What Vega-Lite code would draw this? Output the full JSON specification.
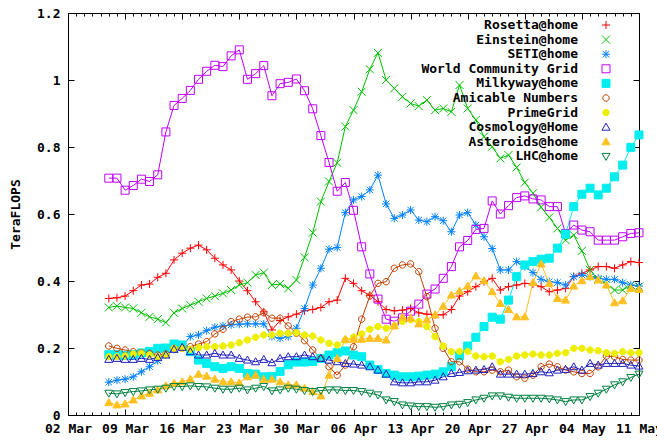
{
"$schema":"https://vega.github.io/schema/vega-lite/v6.json",
"width":571,"height":402,
"autosize":{"type":"none"},
"padding":{"left":68,"top":13,"right":18,"bottom":26},
"background":"white",
"config":{
 "view":{"stroke":"black","strokeWidth":1},
 "font":"DejaVu Sans Mono",
 "axis":{"labelFont":"DejaVu Sans Mono","labelFontSize":13,"labelFontWeight":"bold","labelColor":"black","titleFont":"DejaVu Sans Mono","titleFontSize":13,"titleFontWeight":"bold","titleColor":"black","grid":false,"domain":false,"tickColor":"black","tickWidth":1,"labelFlush":false,"labelOverlap":false,"labelBound":false}
},
"datasets":{"pts":[
{"s":"Rosetta@home","d":"2008/03/07","v":0.348},{"s":"Rosetta@home","d":"2008/03/08","v":0.350},{"s":"Rosetta@home","d":"2008/03/09","v":0.355},{"s":"Rosetta@home","d":"2008/03/10","v":0.371},{"s":"Rosetta@home","d":"2008/03/11","v":0.388},{"s":"Rosetta@home","d":"2008/03/12","v":0.391},{"s":"Rosetta@home","d":"2008/03/13","v":0.411},{"s":"Rosetta@home","d":"2008/03/14","v":0.423},{"s":"Rosetta@home","d":"2008/03/15","v":0.463},{"s":"Rosetta@home","d":"2008/03/16","v":0.483},{"s":"Rosetta@home","d":"2008/03/17","v":0.498},{"s":"Rosetta@home","d":"2008/03/18","v":0.507},{"s":"Rosetta@home","d":"2008/03/19","v":0.493},{"s":"Rosetta@home","d":"2008/03/20","v":0.468},{"s":"Rosetta@home","d":"2008/03/21","v":0.448},{"s":"Rosetta@home","d":"2008/03/22","v":0.433},{"s":"Rosetta@home","d":"2008/03/23","v":0.400},{"s":"Rosetta@home","d":"2008/03/24","v":0.371},{"s":"Rosetta@home","d":"2008/03/25","v":0.338},{"s":"Rosetta@home","d":"2008/03/26","v":0.308},{"s":"Rosetta@home","d":"2008/03/27","v":0.254},{"s":"Rosetta@home","d":"2008/03/28","v":0.282},{"s":"Rosetta@home","d":"2008/03/29","v":0.293},{"s":"Rosetta@home","d":"2008/03/30","v":0.301},{"s":"Rosetta@home","d":"2008/03/31","v":0.311},{"s":"Rosetta@home","d":"2008/04/01","v":0.315},{"s":"Rosetta@home","d":"2008/04/02","v":0.321},{"s":"Rosetta@home","d":"2008/04/03","v":0.338},{"s":"Rosetta@home","d":"2008/04/04","v":0.343},{"s":"Rosetta@home","d":"2008/04/05","v":0.408},{"s":"Rosetta@home","d":"2008/04/06","v":0.393},{"s":"Rosetta@home","d":"2008/04/07","v":0.371},{"s":"Rosetta@home","d":"2008/04/08","v":0.357},{"s":"Rosetta@home","d":"2008/04/09","v":0.338},{"s":"Rosetta@home","d":"2008/04/10","v":0.315},{"s":"Rosetta@home","d":"2008/04/11","v":0.311},{"s":"Rosetta@home","d":"2008/04/12","v":0.313},{"s":"Rosetta@home","d":"2008/04/13","v":0.318},{"s":"Rosetta@home","d":"2008/04/14","v":0.305},{"s":"Rosetta@home","d":"2008/04/15","v":0.301},{"s":"Rosetta@home","d":"2008/04/16","v":0.299},{"s":"Rosetta@home","d":"2008/04/17","v":0.299},{"s":"Rosetta@home","d":"2008/04/18","v":0.315},{"s":"Rosetta@home","d":"2008/04/19","v":0.355},{"s":"Rosetta@home","d":"2008/04/20","v":0.368},{"s":"Rosetta@home","d":"2008/04/21","v":0.383},{"s":"Rosetta@home","d":"2008/04/22","v":0.398},{"s":"Rosetta@home","d":"2008/04/23","v":0.408},{"s":"Rosetta@home","d":"2008/04/24","v":0.373},{"s":"Rosetta@home","d":"2008/04/25","v":0.383},{"s":"Rosetta@home","d":"2008/04/26","v":0.388},{"s":"Rosetta@home","d":"2008/04/27","v":0.393},{"s":"Rosetta@home","d":"2008/04/28","v":0.391},{"s":"Rosetta@home","d":"2008/04/29","v":0.383},{"s":"Rosetta@home","d":"2008/04/30","v":0.368},{"s":"Rosetta@home","d":"2008/05/01","v":0.373},{"s":"Rosetta@home","d":"2008/05/02","v":0.378},{"s":"Rosetta@home","d":"2008/05/03","v":0.413},{"s":"Rosetta@home","d":"2008/05/04","v":0.423},{"s":"Rosetta@home","d":"2008/05/05","v":0.433},{"s":"Rosetta@home","d":"2008/05/06","v":0.443},{"s":"Rosetta@home","d":"2008/05/07","v":0.443},{"s":"Rosetta@home","d":"2008/05/08","v":0.438},{"s":"Rosetta@home","d":"2008/05/09","v":0.448},{"s":"Rosetta@home","d":"2008/05/10","v":0.458},{"s":"Rosetta@home","d":"2008/05/11","v":0.455},
{"s":"Einstein@home","d":"2008/03/07","v":0.321},{"s":"Einstein@home","d":"2008/03/08","v":0.325},{"s":"Einstein@home","d":"2008/03/09","v":0.321},{"s":"Einstein@home","d":"2008/03/10","v":0.318},{"s":"Einstein@home","d":"2008/03/11","v":0.305},{"s":"Einstein@home","d":"2008/03/12","v":0.293},{"s":"Einstein@home","d":"2008/03/13","v":0.286},{"s":"Einstein@home","d":"2008/03/14","v":0.276},{"s":"Einstein@home","d":"2008/03/15","v":0.305},{"s":"Einstein@home","d":"2008/03/16","v":0.318},{"s":"Einstein@home","d":"2008/03/17","v":0.328},{"s":"Einstein@home","d":"2008/03/18","v":0.338},{"s":"Einstein@home","d":"2008/03/19","v":0.348},{"s":"Einstein@home","d":"2008/03/20","v":0.355},{"s":"Einstein@home","d":"2008/03/21","v":0.363},{"s":"Einstein@home","d":"2008/03/22","v":0.373},{"s":"Einstein@home","d":"2008/03/23","v":0.388},{"s":"Einstein@home","d":"2008/03/24","v":0.395},{"s":"Einstein@home","d":"2008/03/25","v":0.418},{"s":"Einstein@home","d":"2008/03/26","v":0.425},{"s":"Einstein@home","d":"2008/03/27","v":0.388},{"s":"Einstein@home","d":"2008/03/28","v":0.391},{"s":"Einstein@home","d":"2008/03/29","v":0.378},{"s":"Einstein@home","d":"2008/03/30","v":0.403},{"s":"Einstein@home","d":"2008/03/31","v":0.471},{"s":"Einstein@home","d":"2008/04/01","v":0.544},{"s":"Einstein@home","d":"2008/04/02","v":0.637},{"s":"Einstein@home","d":"2008/04/03","v":0.697},{"s":"Einstein@home","d":"2008/04/04","v":0.753},{"s":"Einstein@home","d":"2008/04/05","v":0.861},{"s":"Einstein@home","d":"2008/04/06","v":0.910},{"s":"Einstein@home","d":"2008/04/07","v":0.965},{"s":"Einstein@home","d":"2008/04/08","v":1.032},{"s":"Einstein@home","d":"2008/04/09","v":1.081},{"s":"Einstein@home","d":"2008/04/10","v":1.000},{"s":"Einstein@home","d":"2008/04/11","v":0.975},{"s":"Einstein@home","d":"2008/04/12","v":0.950},{"s":"Einstein@home","d":"2008/04/13","v":0.930},{"s":"Einstein@home","d":"2008/04/14","v":0.922},{"s":"Einstein@home","d":"2008/04/15","v":0.940},{"s":"Einstein@home","d":"2008/04/16","v":0.910},{"s":"Einstein@home","d":"2008/04/17","v":0.915},{"s":"Einstein@home","d":"2008/04/18","v":0.905},{"s":"Einstein@home","d":"2008/04/19","v":0.985},{"s":"Einstein@home","d":"2008/04/20","v":0.915},{"s":"Einstein@home","d":"2008/04/21","v":0.881},{"s":"Einstein@home","d":"2008/04/22","v":0.831},{"s":"Einstein@home","d":"2008/04/23","v":0.801},{"s":"Einstein@home","d":"2008/04/24","v":0.766},{"s":"Einstein@home","d":"2008/04/25","v":0.776},{"s":"Einstein@home","d":"2008/04/26","v":0.739},{"s":"Einstein@home","d":"2008/04/27","v":0.694},{"s":"Einstein@home","d":"2008/04/28","v":0.662},{"s":"Einstein@home","d":"2008/04/29","v":0.620},{"s":"Einstein@home","d":"2008/04/30","v":0.590},{"s":"Einstein@home","d":"2008/05/01","v":0.557},{"s":"Einstein@home","d":"2008/05/02","v":0.522},{"s":"Einstein@home","d":"2008/05/03","v":0.537},{"s":"Einstein@home","d":"2008/05/04","v":0.490},{"s":"Einstein@home","d":"2008/05/05","v":0.433},{"s":"Einstein@home","d":"2008/05/06","v":0.403},{"s":"Einstein@home","d":"2008/05/07","v":0.391},{"s":"Einstein@home","d":"2008/05/08","v":0.373},{"s":"Einstein@home","d":"2008/05/09","v":0.373},{"s":"Einstein@home","d":"2008/05/10","v":0.388},{"s":"Einstein@home","d":"2008/05/11","v":0.383},
{"s":"SETI@home","d":"2008/03/07","v":0.098},{"s":"SETI@home","d":"2008/03/08","v":0.104},{"s":"SETI@home","d":"2008/03/09","v":0.107},{"s":"SETI@home","d":"2008/03/10","v":0.114},{"s":"SETI@home","d":"2008/03/11","v":0.129},{"s":"SETI@home","d":"2008/03/12","v":0.144},{"s":"SETI@home","d":"2008/03/13","v":0.162},{"s":"SETI@home","d":"2008/03/14","v":0.179},{"s":"SETI@home","d":"2008/03/15","v":0.196},{"s":"SETI@home","d":"2008/03/16","v":0.206},{"s":"SETI@home","d":"2008/03/17","v":0.234},{"s":"SETI@home","d":"2008/03/18","v":0.239},{"s":"SETI@home","d":"2008/03/19","v":0.252},{"s":"SETI@home","d":"2008/03/20","v":0.262},{"s":"SETI@home","d":"2008/03/21","v":0.266},{"s":"SETI@home","d":"2008/03/22","v":0.269},{"s":"SETI@home","d":"2008/03/23","v":0.271},{"s":"SETI@home","d":"2008/03/24","v":0.272},{"s":"SETI@home","d":"2008/03/25","v":0.272},{"s":"SETI@home","d":"2008/03/26","v":0.272},{"s":"SETI@home","d":"2008/03/27","v":0.234},{"s":"SETI@home","d":"2008/03/28","v":0.229},{"s":"SETI@home","d":"2008/03/29","v":0.234},{"s":"SETI@home","d":"2008/03/30","v":0.259},{"s":"SETI@home","d":"2008/03/31","v":0.318},{"s":"SETI@home","d":"2008/04/01","v":0.388},{"s":"SETI@home","d":"2008/04/02","v":0.438},{"s":"SETI@home","d":"2008/04/03","v":0.495},{"s":"SETI@home","d":"2008/04/04","v":0.500},{"s":"SETI@home","d":"2008/04/05","v":0.604},{"s":"SETI@home","d":"2008/04/06","v":0.642},{"s":"SETI@home","d":"2008/04/07","v":0.652},{"s":"SETI@home","d":"2008/04/08","v":0.672},{"s":"SETI@home","d":"2008/04/09","v":0.716},{"s":"SETI@home","d":"2008/04/10","v":0.630},{"s":"SETI@home","d":"2008/04/11","v":0.587},{"s":"SETI@home","d":"2008/04/12","v":0.597},{"s":"SETI@home","d":"2008/04/13","v":0.612},{"s":"SETI@home","d":"2008/04/14","v":0.582},{"s":"SETI@home","d":"2008/04/15","v":0.577},{"s":"SETI@home","d":"2008/04/16","v":0.592},{"s":"SETI@home","d":"2008/04/17","v":0.580},{"s":"SETI@home","d":"2008/04/18","v":0.547},{"s":"SETI@home","d":"2008/04/19","v":0.597},{"s":"SETI@home","d":"2008/04/20","v":0.604},{"s":"SETI@home","d":"2008/04/21","v":0.567},{"s":"SETI@home","d":"2008/04/22","v":0.532},{"s":"SETI@home","d":"2008/04/23","v":0.497},{"s":"SETI@home","d":"2008/04/24","v":0.433},{"s":"SETI@home","d":"2008/04/25","v":0.433},{"s":"SETI@home","d":"2008/04/26","v":0.458},{"s":"SETI@home","d":"2008/04/27","v":0.443},{"s":"SETI@home","d":"2008/04/28","v":0.425},{"s":"SETI@home","d":"2008/04/29","v":0.405},{"s":"SETI@home","d":"2008/04/30","v":0.398},{"s":"SETI@home","d":"2008/05/01","v":0.395},{"s":"SETI@home","d":"2008/05/02","v":0.388},{"s":"SETI@home","d":"2008/05/03","v":0.413},{"s":"SETI@home","d":"2008/05/04","v":0.418},{"s":"SETI@home","d":"2008/05/05","v":0.413},{"s":"SETI@home","d":"2008/05/06","v":0.408},{"s":"SETI@home","d":"2008/05/07","v":0.405},{"s":"SETI@home","d":"2008/05/08","v":0.405},{"s":"SETI@home","d":"2008/05/09","v":0.395},{"s":"SETI@home","d":"2008/05/10","v":0.388},{"s":"SETI@home","d":"2008/05/11","v":0.385},
{"s":"World Community Grid","d":"2008/03/07","v":0.707},{"s":"World Community Grid","d":"2008/03/08","v":0.707},{"s":"World Community Grid","d":"2008/03/09","v":0.671},{"s":"World Community Grid","d":"2008/03/10","v":0.685},{"s":"World Community Grid","d":"2008/03/11","v":0.704},{"s":"World Community Grid","d":"2008/03/12","v":0.697},{"s":"World Community Grid","d":"2008/03/13","v":0.717},{"s":"World Community Grid","d":"2008/03/14","v":0.845},{"s":"World Community Grid","d":"2008/03/15","v":0.924},{"s":"World Community Grid","d":"2008/03/16","v":0.945},{"s":"World Community Grid","d":"2008/03/17","v":0.969},{"s":"World Community Grid","d":"2008/03/18","v":1.002},{"s":"World Community Grid","d":"2008/03/19","v":1.026},{"s":"World Community Grid","d":"2008/03/20","v":1.044},{"s":"World Community Grid","d":"2008/03/21","v":1.040},{"s":"World Community Grid","d":"2008/03/22","v":1.072},{"s":"World Community Grid","d":"2008/03/23","v":1.090},{"s":"World Community Grid","d":"2008/03/24","v":1.002},{"s":"World Community Grid","d":"2008/03/25","v":1.019},{"s":"World Community Grid","d":"2008/03/26","v":1.043},{"s":"World Community Grid","d":"2008/03/27","v":0.953},{"s":"World Community Grid","d":"2008/03/28","v":0.989},{"s":"World Community Grid","d":"2008/03/29","v":0.993},{"s":"World Community Grid","d":"2008/03/30","v":1.003},{"s":"World Community Grid","d":"2008/03/31","v":0.968},{"s":"World Community Grid","d":"2008/04/01","v":0.914},{"s":"World Community Grid","d":"2008/04/02","v":0.834},{"s":"World Community Grid","d":"2008/04/03","v":0.754},{"s":"World Community Grid","d":"2008/04/04","v":0.668},{"s":"World Community Grid","d":"2008/04/05","v":0.694},{"s":"World Community Grid","d":"2008/04/06","v":0.611},{"s":"World Community Grid","d":"2008/04/07","v":0.502},{"s":"World Community Grid","d":"2008/04/08","v":0.421},{"s":"World Community Grid","d":"2008/04/09","v":0.346},{"s":"World Community Grid","d":"2008/04/10","v":0.286},{"s":"World Community Grid","d":"2008/04/11","v":0.280},{"s":"World Community Grid","d":"2008/04/12","v":0.290},{"s":"World Community Grid","d":"2008/04/13","v":0.310},{"s":"World Community Grid","d":"2008/04/14","v":0.331},{"s":"World Community Grid","d":"2008/04/15","v":0.361},{"s":"World Community Grid","d":"2008/04/16","v":0.376},{"s":"World Community Grid","d":"2008/04/17","v":0.408},{"s":"World Community Grid","d":"2008/04/18","v":0.443},{"s":"World Community Grid","d":"2008/04/19","v":0.502},{"s":"World Community Grid","d":"2008/04/20","v":0.521},{"s":"World Community Grid","d":"2008/04/21","v":0.554},{"s":"World Community Grid","d":"2008/04/22","v":0.557},{"s":"World Community Grid","d":"2008/04/23","v":0.639},{"s":"World Community Grid","d":"2008/04/24","v":0.600},{"s":"World Community Grid","d":"2008/04/25","v":0.625},{"s":"World Community Grid","d":"2008/04/26","v":0.649},{"s":"World Community Grid","d":"2008/04/27","v":0.654},{"s":"World Community Grid","d":"2008/04/28","v":0.645},{"s":"World Community Grid","d":"2008/04/29","v":0.642},{"s":"World Community Grid","d":"2008/04/30","v":0.622},{"s":"World Community Grid","d":"2008/05/01","v":0.622},{"s":"World Community Grid","d":"2008/05/02","v":0.542},{"s":"World Community Grid","d":"2008/05/03","v":0.567},{"s":"World Community Grid","d":"2008/05/04","v":0.552},{"s":"World Community Grid","d":"2008/05/05","v":0.547},{"s":"World Community Grid","d":"2008/05/06","v":0.522},{"s":"World Community Grid","d":"2008/05/07","v":0.522},{"s":"World Community Grid","d":"2008/05/08","v":0.522},{"s":"World Community Grid","d":"2008/05/09","v":0.532},{"s":"World Community Grid","d":"2008/05/10","v":0.542},{"s":"World Community Grid","d":"2008/05/11","v":0.544},
{"s":"Milkyway@home","d":"2008/03/07","v":0.180},{"s":"Milkyway@home","d":"2008/03/08","v":0.180},{"s":"Milkyway@home","d":"2008/03/09","v":0.178},{"s":"Milkyway@home","d":"2008/03/10","v":0.180},{"s":"Milkyway@home","d":"2008/03/11","v":0.185},{"s":"Milkyway@home","d":"2008/03/12","v":0.190},{"s":"Milkyway@home","d":"2008/03/13","v":0.199},{"s":"Milkyway@home","d":"2008/03/14","v":0.200},{"s":"Milkyway@home","d":"2008/03/15","v":0.212},{"s":"Milkyway@home","d":"2008/03/16","v":0.209},{"s":"Milkyway@home","d":"2008/03/17","v":0.189},{"s":"Milkyway@home","d":"2008/03/18","v":0.164},{"s":"Milkyway@home","d":"2008/03/19","v":0.154},{"s":"Milkyway@home","d":"2008/03/20","v":0.144},{"s":"Milkyway@home","d":"2008/03/21","v":0.139},{"s":"Milkyway@home","d":"2008/03/22","v":0.144},{"s":"Milkyway@home","d":"2008/03/23","v":0.139},{"s":"Milkyway@home","d":"2008/03/24","v":0.124},{"s":"Milkyway@home","d":"2008/03/25","v":0.122},{"s":"Milkyway@home","d":"2008/03/26","v":0.114},{"s":"Milkyway@home","d":"2008/03/27","v":0.115},{"s":"Milkyway@home","d":"2008/03/28","v":0.130},{"s":"Milkyway@home","d":"2008/03/29","v":0.150},{"s":"Milkyway@home","d":"2008/03/30","v":0.158},{"s":"Milkyway@home","d":"2008/03/31","v":0.158},{"s":"Milkyway@home","d":"2008/04/01","v":0.160},{"s":"Milkyway@home","d":"2008/04/02","v":0.169},{"s":"Milkyway@home","d":"2008/04/03","v":0.179},{"s":"Milkyway@home","d":"2008/04/04","v":0.186},{"s":"Milkyway@home","d":"2008/04/05","v":0.191},{"s":"Milkyway@home","d":"2008/04/06","v":0.179},{"s":"Milkyway@home","d":"2008/04/07","v":0.174},{"s":"Milkyway@home","d":"2008/04/08","v":0.149},{"s":"Milkyway@home","d":"2008/04/09","v":0.136},{"s":"Milkyway@home","d":"2008/04/10","v":0.124},{"s":"Milkyway@home","d":"2008/04/11","v":0.119},{"s":"Milkyway@home","d":"2008/04/12","v":0.114},{"s":"Milkyway@home","d":"2008/04/13","v":0.114},{"s":"Milkyway@home","d":"2008/04/14","v":0.116},{"s":"Milkyway@home","d":"2008/04/15","v":0.119},{"s":"Milkyway@home","d":"2008/04/16","v":0.122},{"s":"Milkyway@home","d":"2008/04/17","v":0.129},{"s":"Milkyway@home","d":"2008/04/18","v":0.144},{"s":"Milkyway@home","d":"2008/04/19","v":0.177},{"s":"Milkyway@home","d":"2008/04/20","v":0.206},{"s":"Milkyway@home","d":"2008/04/21","v":0.232},{"s":"Milkyway@home","d":"2008/04/22","v":0.264},{"s":"Milkyway@home","d":"2008/04/23","v":0.292},{"s":"Milkyway@home","d":"2008/04/24","v":0.286},{"s":"Milkyway@home","d":"2008/04/25","v":0.343},{"s":"Milkyway@home","d":"2008/04/26","v":0.413},{"s":"Milkyway@home","d":"2008/04/27","v":0.448},{"s":"Milkyway@home","d":"2008/04/28","v":0.458},{"s":"Milkyway@home","d":"2008/04/29","v":0.465},{"s":"Milkyway@home","d":"2008/04/30","v":0.468},{"s":"Milkyway@home","d":"2008/05/01","v":0.498},{"s":"Milkyway@home","d":"2008/05/02","v":0.540},{"s":"Milkyway@home","d":"2008/05/03","v":0.622},{"s":"Milkyway@home","d":"2008/05/04","v":0.659},{"s":"Milkyway@home","d":"2008/05/05","v":0.677},{"s":"Milkyway@home","d":"2008/05/06","v":0.657},{"s":"Milkyway@home","d":"2008/05/07","v":0.677},{"s":"Milkyway@home","d":"2008/05/08","v":0.711},{"s":"Milkyway@home","d":"2008/05/09","v":0.746},{"s":"Milkyway@home","d":"2008/05/10","v":0.799},{"s":"Milkyway@home","d":"2008/05/11","v":0.836},
{"s":"Amicable Numbers","d":"2008/03/07","v":0.206},{"s":"Amicable Numbers","d":"2008/03/08","v":0.199},{"s":"Amicable Numbers","d":"2008/03/09","v":0.194},{"s":"Amicable Numbers","d":"2008/03/10","v":0.189},{"s":"Amicable Numbers","d":"2008/03/11","v":0.186},{"s":"Amicable Numbers","d":"2008/03/12","v":0.184},{"s":"Amicable Numbers","d":"2008/03/13","v":0.179},{"s":"Amicable Numbers","d":"2008/03/14","v":0.182},{"s":"Amicable Numbers","d":"2008/03/15","v":0.199},{"s":"Amicable Numbers","d":"2008/03/16","v":0.199},{"s":"Amicable Numbers","d":"2008/03/17","v":0.204},{"s":"Amicable Numbers","d":"2008/03/18","v":0.212},{"s":"Amicable Numbers","d":"2008/03/19","v":0.219},{"s":"Amicable Numbers","d":"2008/03/20","v":0.242},{"s":"Amicable Numbers","d":"2008/03/21","v":0.256},{"s":"Amicable Numbers","d":"2008/03/22","v":0.279},{"s":"Amicable Numbers","d":"2008/03/23","v":0.286},{"s":"Amicable Numbers","d":"2008/03/24","v":0.292},{"s":"Amicable Numbers","d":"2008/03/25","v":0.293},{"s":"Amicable Numbers","d":"2008/03/26","v":0.305},{"s":"Amicable Numbers","d":"2008/03/27","v":0.289},{"s":"Amicable Numbers","d":"2008/03/28","v":0.289},{"s":"Amicable Numbers","d":"2008/03/29","v":0.266},{"s":"Amicable Numbers","d":"2008/03/30","v":0.244},{"s":"Amicable Numbers","d":"2008/03/31","v":0.222},{"s":"Amicable Numbers","d":"2008/04/01","v":0.194},{"s":"Amicable Numbers","d":"2008/04/02","v":0.169},{"s":"Amicable Numbers","d":"2008/04/03","v":0.144},{"s":"Amicable Numbers","d":"2008/04/04","v":0.119},{"s":"Amicable Numbers","d":"2008/04/05","v":0.149},{"s":"Amicable Numbers","d":"2008/04/06","v":0.204},{"s":"Amicable Numbers","d":"2008/04/07","v":0.286},{"s":"Amicable Numbers","d":"2008/04/08","v":0.355},{"s":"Amicable Numbers","d":"2008/04/09","v":0.393},{"s":"Amicable Numbers","d":"2008/04/10","v":0.398},{"s":"Amicable Numbers","d":"2008/04/11","v":0.438},{"s":"Amicable Numbers","d":"2008/04/12","v":0.448},{"s":"Amicable Numbers","d":"2008/04/13","v":0.451},{"s":"Amicable Numbers","d":"2008/04/14","v":0.428},{"s":"Amicable Numbers","d":"2008/04/15","v":0.353},{"s":"Amicable Numbers","d":"2008/04/16","v":0.259},{"s":"Amicable Numbers","d":"2008/04/17","v":0.199},{"s":"Amicable Numbers","d":"2008/04/18","v":0.159},{"s":"Amicable Numbers","d":"2008/04/19","v":0.159},{"s":"Amicable Numbers","d":"2008/04/20","v":0.137},{"s":"Amicable Numbers","d":"2008/04/21","v":0.129},{"s":"Amicable Numbers","d":"2008/04/22","v":0.129},{"s":"Amicable Numbers","d":"2008/04/23","v":0.134},{"s":"Amicable Numbers","d":"2008/04/24","v":0.129},{"s":"Amicable Numbers","d":"2008/04/25","v":0.134},{"s":"Amicable Numbers","d":"2008/04/26","v":0.114},{"s":"Amicable Numbers","d":"2008/04/27","v":0.110},{"s":"Amicable Numbers","d":"2008/04/28","v":0.119},{"s":"Amicable Numbers","d":"2008/04/29","v":0.144},{"s":"Amicable Numbers","d":"2008/04/30","v":0.152},{"s":"Amicable Numbers","d":"2008/05/01","v":0.144},{"s":"Amicable Numbers","d":"2008/05/02","v":0.134},{"s":"Amicable Numbers","d":"2008/05/03","v":0.129},{"s":"Amicable Numbers","d":"2008/05/04","v":0.124},{"s":"Amicable Numbers","d":"2008/05/05","v":0.124},{"s":"Amicable Numbers","d":"2008/05/06","v":0.144},{"s":"Amicable Numbers","d":"2008/05/07","v":0.176},{"s":"Amicable Numbers","d":"2008/05/08","v":0.174},{"s":"Amicable Numbers","d":"2008/05/09","v":0.166},{"s":"Amicable Numbers","d":"2008/05/10","v":0.164},{"s":"Amicable Numbers","d":"2008/05/11","v":0.164},
{"s":"PrimeGrid","d":"2008/03/07","v":0.174},{"s":"PrimeGrid","d":"2008/03/08","v":0.174},{"s":"PrimeGrid","d":"2008/03/09","v":0.176},{"s":"PrimeGrid","d":"2008/03/10","v":0.182},{"s":"PrimeGrid","d":"2008/03/11","v":0.184},{"s":"PrimeGrid","d":"2008/03/12","v":0.179},{"s":"PrimeGrid","d":"2008/03/13","v":0.174},{"s":"PrimeGrid","d":"2008/03/14","v":0.179},{"s":"PrimeGrid","d":"2008/03/15","v":0.199},{"s":"PrimeGrid","d":"2008/03/16","v":0.199},{"s":"PrimeGrid","d":"2008/03/17","v":0.196},{"s":"PrimeGrid","d":"2008/03/18","v":0.201},{"s":"PrimeGrid","d":"2008/03/19","v":0.204},{"s":"PrimeGrid","d":"2008/03/20","v":0.204},{"s":"PrimeGrid","d":"2008/03/21","v":0.206},{"s":"PrimeGrid","d":"2008/03/22","v":0.209},{"s":"PrimeGrid","d":"2008/03/23","v":0.216},{"s":"PrimeGrid","d":"2008/03/24","v":0.224},{"s":"PrimeGrid","d":"2008/03/25","v":0.232},{"s":"PrimeGrid","d":"2008/03/26","v":0.239},{"s":"PrimeGrid","d":"2008/03/27","v":0.239},{"s":"PrimeGrid","d":"2008/03/28","v":0.244},{"s":"PrimeGrid","d":"2008/03/29","v":0.244},{"s":"PrimeGrid","d":"2008/03/30","v":0.246},{"s":"PrimeGrid","d":"2008/03/31","v":0.239},{"s":"PrimeGrid","d":"2008/04/01","v":0.236},{"s":"PrimeGrid","d":"2008/04/02","v":0.224},{"s":"PrimeGrid","d":"2008/04/03","v":0.214},{"s":"PrimeGrid","d":"2008/04/04","v":0.209},{"s":"PrimeGrid","d":"2008/04/05","v":0.224},{"s":"PrimeGrid","d":"2008/04/06","v":0.232},{"s":"PrimeGrid","d":"2008/04/07","v":0.242},{"s":"PrimeGrid","d":"2008/04/08","v":0.256},{"s":"PrimeGrid","d":"2008/04/09","v":0.264},{"s":"PrimeGrid","d":"2008/04/10","v":0.259},{"s":"PrimeGrid","d":"2008/04/11","v":0.266},{"s":"PrimeGrid","d":"2008/04/12","v":0.279},{"s":"PrimeGrid","d":"2008/04/13","v":0.284},{"s":"PrimeGrid","d":"2008/04/14","v":0.279},{"s":"PrimeGrid","d":"2008/04/15","v":0.264},{"s":"PrimeGrid","d":"2008/04/16","v":0.234},{"s":"PrimeGrid","d":"2008/04/17","v":0.206},{"s":"PrimeGrid","d":"2008/04/18","v":0.189},{"s":"PrimeGrid","d":"2008/04/19","v":0.190},{"s":"PrimeGrid","d":"2008/04/20","v":0.190},{"s":"PrimeGrid","d":"2008/04/21","v":0.176},{"s":"PrimeGrid","d":"2008/04/22","v":0.174},{"s":"PrimeGrid","d":"2008/04/23","v":0.176},{"s":"PrimeGrid","d":"2008/04/24","v":0.159},{"s":"PrimeGrid","d":"2008/04/25","v":0.166},{"s":"PrimeGrid","d":"2008/04/26","v":0.176},{"s":"PrimeGrid","d":"2008/04/27","v":0.179},{"s":"PrimeGrid","d":"2008/04/28","v":0.182},{"s":"PrimeGrid","d":"2008/04/29","v":0.179},{"s":"PrimeGrid","d":"2008/04/30","v":0.179},{"s":"PrimeGrid","d":"2008/05/01","v":0.184},{"s":"PrimeGrid","d":"2008/05/02","v":0.186},{"s":"PrimeGrid","d":"2008/05/03","v":0.199},{"s":"PrimeGrid","d":"2008/05/04","v":0.199},{"s":"PrimeGrid","d":"2008/05/05","v":0.194},{"s":"PrimeGrid","d":"2008/05/06","v":0.192},{"s":"PrimeGrid","d":"2008/05/07","v":0.186},{"s":"PrimeGrid","d":"2008/05/08","v":0.184},{"s":"PrimeGrid","d":"2008/05/09","v":0.189},{"s":"PrimeGrid","d":"2008/05/10","v":0.186},{"s":"PrimeGrid","d":"2008/05/11","v":0.186},
{"s":"Cosmology@Home","d":"2008/03/07","v":0.166},{"s":"Cosmology@Home","d":"2008/03/08","v":0.169},{"s":"Cosmology@Home","d":"2008/03/09","v":0.166},{"s":"Cosmology@Home","d":"2008/03/10","v":0.166},{"s":"Cosmology@Home","d":"2008/03/11","v":0.169},{"s":"Cosmology@Home","d":"2008/03/12","v":0.166},{"s":"Cosmology@Home","d":"2008/03/13","v":0.172},{"s":"Cosmology@Home","d":"2008/03/14","v":0.179},{"s":"Cosmology@Home","d":"2008/03/15","v":0.196},{"s":"Cosmology@Home","d":"2008/03/16","v":0.202},{"s":"Cosmology@Home","d":"2008/03/17","v":0.189},{"s":"Cosmology@Home","d":"2008/03/18","v":0.179},{"s":"Cosmology@Home","d":"2008/03/19","v":0.179},{"s":"Cosmology@Home","d":"2008/03/20","v":0.184},{"s":"Cosmology@Home","d":"2008/03/21","v":0.179},{"s":"Cosmology@Home","d":"2008/03/22","v":0.179},{"s":"Cosmology@Home","d":"2008/03/23","v":0.169},{"s":"Cosmology@Home","d":"2008/03/24","v":0.164},{"s":"Cosmology@Home","d":"2008/03/25","v":0.159},{"s":"Cosmology@Home","d":"2008/03/26","v":0.166},{"s":"Cosmology@Home","d":"2008/03/27","v":0.156},{"s":"Cosmology@Home","d":"2008/03/28","v":0.169},{"s":"Cosmology@Home","d":"2008/03/29","v":0.174},{"s":"Cosmology@Home","d":"2008/03/30","v":0.174},{"s":"Cosmology@Home","d":"2008/03/31","v":0.179},{"s":"Cosmology@Home","d":"2008/04/01","v":0.174},{"s":"Cosmology@Home","d":"2008/04/02","v":0.169},{"s":"Cosmology@Home","d":"2008/04/03","v":0.164},{"s":"Cosmology@Home","d":"2008/04/04","v":0.159},{"s":"Cosmology@Home","d":"2008/04/05","v":0.154},{"s":"Cosmology@Home","d":"2008/04/06","v":0.152},{"s":"Cosmology@Home","d":"2008/04/07","v":0.149},{"s":"Cosmology@Home","d":"2008/04/08","v":0.144},{"s":"Cosmology@Home","d":"2008/04/09","v":0.134},{"s":"Cosmology@Home","d":"2008/04/10","v":0.122},{"s":"Cosmology@Home","d":"2008/04/11","v":0.099},{"s":"Cosmology@Home","d":"2008/04/12","v":0.096},{"s":"Cosmology@Home","d":"2008/04/13","v":0.096},{"s":"Cosmology@Home","d":"2008/04/14","v":0.099},{"s":"Cosmology@Home","d":"2008/04/15","v":0.099},{"s":"Cosmology@Home","d":"2008/04/16","v":0.104},{"s":"Cosmology@Home","d":"2008/04/17","v":0.114},{"s":"Cosmology@Home","d":"2008/04/18","v":0.124},{"s":"Cosmology@Home","d":"2008/04/19","v":0.127},{"s":"Cosmology@Home","d":"2008/04/20","v":0.132},{"s":"Cosmology@Home","d":"2008/04/21","v":0.134},{"s":"Cosmology@Home","d":"2008/04/22","v":0.136},{"s":"Cosmology@Home","d":"2008/04/23","v":0.144},{"s":"Cosmology@Home","d":"2008/04/24","v":0.122},{"s":"Cosmology@Home","d":"2008/04/25","v":0.122},{"s":"Cosmology@Home","d":"2008/04/26","v":0.122},{"s":"Cosmology@Home","d":"2008/04/27","v":0.122},{"s":"Cosmology@Home","d":"2008/04/28","v":0.124},{"s":"Cosmology@Home","d":"2008/04/29","v":0.129},{"s":"Cosmology@Home","d":"2008/04/30","v":0.126},{"s":"Cosmology@Home","d":"2008/05/01","v":0.134},{"s":"Cosmology@Home","d":"2008/05/02","v":0.136},{"s":"Cosmology@Home","d":"2008/05/03","v":0.144},{"s":"Cosmology@Home","d":"2008/05/04","v":0.134},{"s":"Cosmology@Home","d":"2008/05/05","v":0.154},{"s":"Cosmology@Home","d":"2008/05/06","v":0.149},{"s":"Cosmology@Home","d":"2008/05/07","v":0.154},{"s":"Cosmology@Home","d":"2008/05/08","v":0.154},{"s":"Cosmology@Home","d":"2008/05/09","v":0.154},{"s":"Cosmology@Home","d":"2008/05/10","v":0.149},{"s":"Cosmology@Home","d":"2008/05/11","v":0.146},
{"s":"Asteroids@home","d":"2008/03/07","v":0.037},{"s":"Asteroids@home","d":"2008/03/08","v":0.030},{"s":"Asteroids@home","d":"2008/03/09","v":0.033},{"s":"Asteroids@home","d":"2008/03/10","v":0.045},{"s":"Asteroids@home","d":"2008/03/11","v":0.057},{"s":"Asteroids@home","d":"2008/03/12","v":0.065},{"s":"Asteroids@home","d":"2008/03/13","v":0.075},{"s":"Asteroids@home","d":"2008/03/14","v":0.087},{"s":"Asteroids@home","d":"2008/03/15","v":0.095},{"s":"Asteroids@home","d":"2008/03/16","v":0.099},{"s":"Asteroids@home","d":"2008/03/17","v":0.107},{"s":"Asteroids@home","d":"2008/03/18","v":0.122},{"s":"Asteroids@home","d":"2008/03/19","v":0.116},{"s":"Asteroids@home","d":"2008/03/20","v":0.107},{"s":"Asteroids@home","d":"2008/03/21","v":0.099},{"s":"Asteroids@home","d":"2008/03/22","v":0.099},{"s":"Asteroids@home","d":"2008/03/23","v":0.096},{"s":"Asteroids@home","d":"2008/03/24","v":0.114},{"s":"Asteroids@home","d":"2008/03/25","v":0.119},{"s":"Asteroids@home","d":"2008/03/26","v":0.107},{"s":"Asteroids@home","d":"2008/03/27","v":0.107},{"s":"Asteroids@home","d":"2008/03/28","v":0.099},{"s":"Asteroids@home","d":"2008/03/29","v":0.090},{"s":"Asteroids@home","d":"2008/03/30","v":0.090},{"s":"Asteroids@home","d":"2008/03/31","v":0.080},{"s":"Asteroids@home","d":"2008/04/01","v":0.070},{"s":"Asteroids@home","d":"2008/04/02","v":0.057},{"s":"Asteroids@home","d":"2008/04/03","v":0.119},{"s":"Asteroids@home","d":"2008/04/04","v":0.169},{"s":"Asteroids@home","d":"2008/04/05","v":0.226},{"s":"Asteroids@home","d":"2008/04/06","v":0.226},{"s":"Asteroids@home","d":"2008/04/07","v":0.226},{"s":"Asteroids@home","d":"2008/04/08","v":0.229},{"s":"Asteroids@home","d":"2008/04/09","v":0.229},{"s":"Asteroids@home","d":"2008/04/10","v":0.224},{"s":"Asteroids@home","d":"2008/04/11","v":0.266},{"s":"Asteroids@home","d":"2008/04/12","v":0.292},{"s":"Asteroids@home","d":"2008/04/13","v":0.289},{"s":"Asteroids@home","d":"2008/04/14","v":0.272},{"s":"Asteroids@home","d":"2008/04/15","v":0.284},{"s":"Asteroids@home","d":"2008/04/16","v":0.299},{"s":"Asteroids@home","d":"2008/04/17","v":0.325},{"s":"Asteroids@home","d":"2008/04/18","v":0.358},{"s":"Asteroids@home","d":"2008/04/19","v":0.370},{"s":"Asteroids@home","d":"2008/04/20","v":0.385},{"s":"Asteroids@home","d":"2008/04/21","v":0.415},{"s":"Asteroids@home","d":"2008/04/22","v":0.401},{"s":"Asteroids@home","d":"2008/04/23","v":0.368},{"s":"Asteroids@home","d":"2008/04/24","v":0.333},{"s":"Asteroids@home","d":"2008/04/25","v":0.315},{"s":"Asteroids@home","d":"2008/04/26","v":0.293},{"s":"Asteroids@home","d":"2008/04/27","v":0.293},{"s":"Asteroids@home","d":"2008/04/28","v":0.395},{"s":"Asteroids@home","d":"2008/04/29","v":0.451},{"s":"Asteroids@home","d":"2008/04/30","v":0.393},{"s":"Asteroids@home","d":"2008/05/01","v":0.348},{"s":"Asteroids@home","d":"2008/05/02","v":0.343},{"s":"Asteroids@home","d":"2008/05/03","v":0.385},{"s":"Asteroids@home","d":"2008/05/04","v":0.401},{"s":"Asteroids@home","d":"2008/05/05","v":0.413},{"s":"Asteroids@home","d":"2008/05/06","v":0.403},{"s":"Asteroids@home","d":"2008/05/07","v":0.388},{"s":"Asteroids@home","d":"2008/05/08","v":0.335},{"s":"Asteroids@home","d":"2008/05/09","v":0.341},{"s":"Asteroids@home","d":"2008/05/10","v":0.378},{"s":"Asteroids@home","d":"2008/05/11","v":0.375},
{"s":"LHC@home","d":"2008/03/07","v":0.065},{"s":"LHC@home","d":"2008/03/08","v":0.063},{"s":"LHC@home","d":"2008/03/09","v":0.067},{"s":"LHC@home","d":"2008/03/10","v":0.070},{"s":"LHC@home","d":"2008/03/11","v":0.072},{"s":"LHC@home","d":"2008/03/12","v":0.075},{"s":"LHC@home","d":"2008/03/13","v":0.077},{"s":"LHC@home","d":"2008/03/14","v":0.080},{"s":"LHC@home","d":"2008/03/15","v":0.085},{"s":"LHC@home","d":"2008/03/16","v":0.085},{"s":"LHC@home","d":"2008/03/17","v":0.087},{"s":"LHC@home","d":"2008/03/18","v":0.085},{"s":"LHC@home","d":"2008/03/19","v":0.084},{"s":"LHC@home","d":"2008/03/20","v":0.080},{"s":"LHC@home","d":"2008/03/21","v":0.077},{"s":"LHC@home","d":"2008/03/22","v":0.077},{"s":"LHC@home","d":"2008/03/23","v":0.080},{"s":"LHC@home","d":"2008/03/24","v":0.075},{"s":"LHC@home","d":"2008/03/25","v":0.080},{"s":"LHC@home","d":"2008/03/26","v":0.085},{"s":"LHC@home","d":"2008/03/27","v":0.072},{"s":"LHC@home","d":"2008/03/28","v":0.075},{"s":"LHC@home","d":"2008/03/29","v":0.080},{"s":"LHC@home","d":"2008/03/30","v":0.077},{"s":"LHC@home","d":"2008/03/31","v":0.073},{"s":"LHC@home","d":"2008/04/01","v":0.070},{"s":"LHC@home","d":"2008/04/02","v":0.073},{"s":"LHC@home","d":"2008/04/03","v":0.075},{"s":"LHC@home","d":"2008/04/04","v":0.075},{"s":"LHC@home","d":"2008/04/05","v":0.073},{"s":"LHC@home","d":"2008/04/06","v":0.073},{"s":"LHC@home","d":"2008/04/07","v":0.070},{"s":"LHC@home","d":"2008/04/08","v":0.065},{"s":"LHC@home","d":"2008/04/09","v":0.060},{"s":"LHC@home","d":"2008/04/10","v":0.045},{"s":"LHC@home","d":"2008/04/11","v":0.040},{"s":"LHC@home","d":"2008/04/12","v":0.030},{"s":"LHC@home","d":"2008/04/13","v":0.027},{"s":"LHC@home","d":"2008/04/14","v":0.025},{"s":"LHC@home","d":"2008/04/15","v":0.025},{"s":"LHC@home","d":"2008/04/16","v":0.023},{"s":"LHC@home","d":"2008/04/17","v":0.025},{"s":"LHC@home","d":"2008/04/18","v":0.030},{"s":"LHC@home","d":"2008/04/19","v":0.032},{"s":"LHC@home","d":"2008/04/20","v":0.037},{"s":"LHC@home","d":"2008/04/21","v":0.045},{"s":"LHC@home","d":"2008/04/22","v":0.050},{"s":"LHC@home","d":"2008/04/23","v":0.057},{"s":"LHC@home","d":"2008/04/24","v":0.057},{"s":"LHC@home","d":"2008/04/25","v":0.053},{"s":"LHC@home","d":"2008/04/26","v":0.050},{"s":"LHC@home","d":"2008/04/27","v":0.050},{"s":"LHC@home","d":"2008/04/28","v":0.050},{"s":"LHC@home","d":"2008/04/29","v":0.050},{"s":"LHC@home","d":"2008/04/30","v":0.048},{"s":"LHC@home","d":"2008/05/01","v":0.045},{"s":"LHC@home","d":"2008/05/02","v":0.040},{"s":"LHC@home","d":"2008/05/03","v":0.045},{"s":"LHC@home","d":"2008/05/04","v":0.045},{"s":"LHC@home","d":"2008/05/05","v":0.055},{"s":"LHC@home","d":"2008/05/06","v":0.065},{"s":"LHC@home","d":"2008/05/07","v":0.077},{"s":"LHC@home","d":"2008/05/08","v":0.090},{"s":"LHC@home","d":"2008/05/09","v":0.099},{"s":"LHC@home","d":"2008/05/10","v":0.112},{"s":"LHC@home","d":"2008/05/11","v":0.122}
]},
"data":{"name":"pts"},
"layer":[
 {"mark":{"type":"line","strokeWidth":1},
  "encoding":{
   "x":{"field":"d","type":"temporal","scale":{"domain":[{"year":2008,"month":3,"date":2},{"year":2008,"month":5,"date":11}]},"axis":{"orient":"bottom","title":null,"format":"%d %b","tickCount":{"interval":"week","step":1},"ticks":false,"labelPadding":7}},
   "y":{"field":"v","type":"quantitative","scale":{"domain":[0,1.2]},"axis":{"orient":"left","title":"TeraFLOPS","values":[0,0.2,0.4,0.6,0.8,1,1.2],"format":"~g","ticks":false,"labelPadding":8,"titleAngle":-90,"titleX":-53,"titleY":201,"titleAlign":"center","titleBaseline":"middle"}},
   "stroke":{"field":"s","type":"nominal","scale":{"domain":["Rosetta@home","Einstein@home","SETI@home","World Community Grid","Milkyway@home","Amicable Numbers","PrimeGrid","Cosmology@Home","Asteroids@home","LHC@home"],"range":["#ff0000","#00c000","#0080ff","#c000ff","#00eeee","#c04000","#eeee00","#2020c0","#ffc020","#008040"]}}
  }},
 {"mark":{"type":"point","size":64,"strokeWidth":1,"opacity":1},
  "encoding":{
   "x":{"field":"d","type":"temporal","scale":{"domain":[{"year":2008,"month":3,"date":2},{"year":2008,"month":5,"date":11}]},"axis":{"orient":"bottom","title":null,"labels":false,"tickCount":{"interval":"week","step":1},"tickSize":-6}},
   "y":{"field":"v","type":"quantitative","scale":{"domain":[0,1.2]},"axis":{"orient":"left","title":null,"labels":false,"values":[0,0.2,0.4,0.6,0.8,1,1.2],"tickSize":-6}},
   "stroke":{"field":"s","type":"nominal","legend":{"orient":"none","legendX":531.5,"legendY":5.5,"title":null,"padding":0,"symbolSize":64,"symbolStrokeWidth":1,"symbolOffset":0,"labelAlign":"right","labelOffset":-34.5,"labelFont":"DejaVu Sans Mono","labelFontSize":13,"labelFontWeight":"bold","labelColor":"black","labelLimit":400,"rowPadding":0.6,"labelExpr":"pad(datum.label, 20, ' ', 'left')"}},
   "fill":{"field":"s","type":"nominal","scale":{"domain":["Rosetta@home","Einstein@home","SETI@home","World Community Grid","Milkyway@home","Amicable Numbers","PrimeGrid","Cosmology@Home","Asteroids@home","LHC@home"],"range":["transparent","transparent","transparent","transparent","#00eeee","transparent","#eeee00","transparent","#ffc020","transparent"]}},
   "shape":{"field":"s","type":"nominal","scale":{"domain":["Rosetta@home","Einstein@home","SETI@home","World Community Grid","Milkyway@home","Amicable Numbers","PrimeGrid","Cosmology@Home","Asteroids@home","LHC@home"],"range":["M-1,0H1M0,-1V1","M-1,-1L1,1M-1,1L1,-1","M-1,0H1M0,-1V1M-0.8,-0.8L0.8,0.8M-0.8,0.8L0.8,-0.8","M-1,-1H1V1H-1Z","M-1,-1H1V1H-1Z","M0.8,0A0.8,0.8,0,1,1,-0.8,0A0.8,0.8,0,1,1,0.8,0Z","M0.8,0A0.8,0.8,0,1,1,-0.8,0A0.8,0.8,0,1,1,0.8,0Z","M0,-1L1,0.75L-1,0.75Z","M0,-1L1,0.75L-1,0.75Z","M0,1L1,-0.75L-1,-0.75Z"]}}
  }},
 {"transform":[{"filter":"datum.v > 9"}],
  "mark":{"type":"point"},
  "encoding":{
   "x":{"field":"d","type":"temporal","scale":{"domain":[{"year":2008,"month":3,"date":2},{"year":2008,"month":5,"date":11}]},"axis":{"orient":"bottom","title":null,"labels":false,"tickCount":{"interval":"day","step":1},"tickSize":-3}},
   "y":{"field":"v","type":"quantitative","scale":{"domain":[0,1.2]},"axis":{"orient":"right","title":null,"labels":false,"values":[0,0.2,0.4,0.6,0.8,1,1.2],"tickSize":-6}}
  }},
 {"transform":[{"filter":"datum.v > 9"}],
  "mark":{"type":"point"},
  "encoding":{
   "x":{"field":"d","type":"temporal","scale":{"domain":[{"year":2008,"month":3,"date":2},{"year":2008,"month":5,"date":11}]},"axis":{"orient":"top","title":null,"labels":false,"tickCount":{"interval":"week","step":1},"tickSize":-6}},
   "y":{"field":"v","type":"quantitative","scale":{"domain":[0,1.2]},"axis":null}
  }},
 {"transform":[{"filter":"datum.v > 9"}],
  "mark":{"type":"point"},
  "encoding":{
   "x":{"field":"d","type":"temporal","scale":{"domain":[{"year":2008,"month":3,"date":2},{"year":2008,"month":5,"date":11}]},"axis":{"orient":"top","title":null,"labels":false,"tickCount":{"interval":"day","step":1},"tickSize":-3}},
   "y":{"field":"v","type":"quantitative","scale":{"domain":[0,1.2]},"axis":null}
  }}
],
"resolve":{"axis":{"x":"independent","y":"independent"}}
}
